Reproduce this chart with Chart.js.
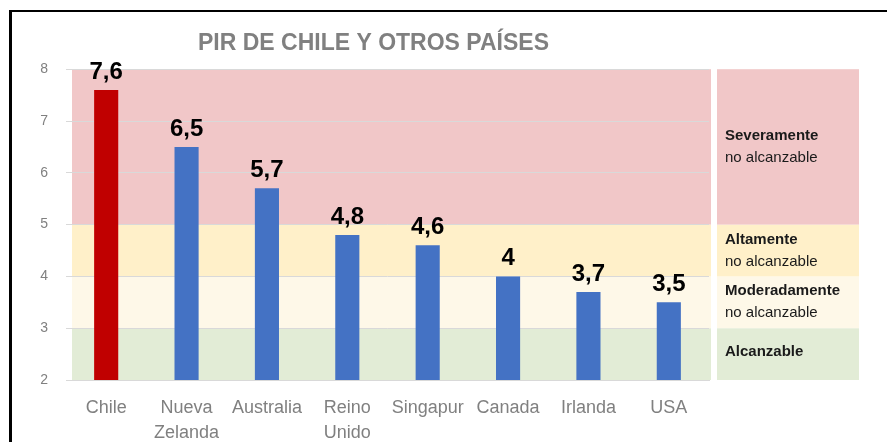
<!DOCTYPE html>
<html>
<head>
<meta charset="utf-8">
<script src="https://cdn.jsdelivr.net/npm/chart.js@4/dist/chart.umd.min.js"></script>
<style>
  body { margin: 0; background: #fff; }
  #wrap { position: relative; width: 887px; height: 442px; }
  #frame { position: absolute; left: 9px; top: 10px; right: -10px; bottom: -10px;
           border-top: 2px solid #000; border-left: 3px solid #000; pointer-events: none; }
</style>
</head>
<body>
<div id="wrap">
  <canvas id="pir_chart"></canvas>
  <div id="frame"></div>
</div>
<script>
// chart data
const countries = ["Chile", ["Nueva", "Zelanda"], "Australia", ["Reino", "Unido"], "Singapur", "Canada", "Irlanda", "USA"];
const pir_values = [7.6, 6.5, 5.7, 4.8, 4.6, 4, 3.7, 3.5];
const bar_colors = ["#c00000", "#4472c4", "#4472c4", "#4472c4", "#4472c4", "#4472c4", "#4472c4", "#4472c4"];

// affordability bands (bottom to top)
const band_from = [2, 3, 4, 5];
const band_to = [3, 4, 5, 8];
const band_titles = ["Alcanzable", "Moderadamente", "Altamente", "Severamente"];
const band_subtitles = ["", "no alcanzable", "no alcanzable", "no alcanzable"];
const band_colors = ["#e2ecd6", "#fef8e8", "#fff0c9", "#f1c7c8"];

const FONT = "'Liberation Sans', Arial, sans-serif";

// bands behind the plot + side legend panel
const bandsPlugin = {
    id: "bands",
    beforeDraw(chart) {
        const ctx = chart.ctx;
        const area = chart.chartArea;
        const y = chart.scales.y;
        const panelLeft = area.right + 8;
        const panelWidth = 142;
        ctx.save();
        for (let i = 0; i < band_from.length; i++) {
            const top = y.getPixelForValue(band_to[i]);
            const bottom = y.getPixelForValue(band_from[i]);
            ctx.fillStyle = band_colors[i];
            ctx.fillRect(area.left + 6, top, area.right - area.left - 4, bottom - top);
            ctx.fillRect(panelLeft, top, panelWidth, bottom - top);

            ctx.fillStyle = "#1a1a1a";
            ctx.textAlign = "left";
            ctx.textBaseline = "middle";
            const mid = (top + bottom) / 2;
            if (band_subtitles[i]) {
                ctx.font = "bold 15px " + FONT;
                ctx.fillText(band_titles[i], panelLeft + 8, mid - 11);
                ctx.font = "15px " + FONT;
                ctx.fillText(band_subtitles[i], panelLeft + 8, mid + 11);
            } else {
                ctx.font = "bold 15px " + FONT;
                ctx.fillText(band_titles[i], panelLeft + 8, mid - 2);
            }
        }
        ctx.restore();
    }
};

// value labels above bars
const valueLabels = {
    id: "valueLabels",
    afterDatasetsDraw(chart) {
        const ctx = chart.ctx;
        const meta = chart.getDatasetMeta(0);
        ctx.save();
        ctx.font = "bold 24px " + FONT;
        ctx.fillStyle = "#000";
        ctx.textAlign = "center";
        ctx.textBaseline = "alphabetic";
        meta.data.forEach((bar, i) => {
            ctx.fillText(String(pir_values[i]).replace(".", ","), bar.x, bar.y - 11);
        });
        ctx.restore();
    }
};

const pir_chart = new Chart("pir_chart", {
    type: "bar",
    data: {
        labels: countries,
        datasets: [{
            label: "PIR",
            data: pir_values,
            backgroundColor: bar_colors,
            categoryPercentage: 1,
            barPercentage: 0.3
        }]
    },
    options: {
        animation: false,
        responsive: true,
        maintainAspectRatio: false,
        layout: { padding: { left: 38, right: 178, top: 0, bottom: 0 } },
        plugins: {
            legend: { display: false },
            tooltip: { enabled: false },
            title: {
                display: true,
                text: "PIR DE CHILE Y OTROS PAÍSES",
                color: "#808080",
                font: { family: FONT, size: 23, weight: "bold" },
                padding: { top: 30, bottom: 11.6 }
            }
        },
        scales: {
            x: {
                grid: { display: false },
                border: { display: true, color: "#d9d9d9" },
                ticks: {
                    color: "#808080",
                    font: { family: FONT, size: 18, lineHeight: 1.39 },
                    padding: 8,
                    maxRotation: 0,
                    autoSkip: false
                },
                afterFit: (scale) => { scale.height = 62; }
            },
            y: {
                min: 2,
                max: 8,
                grid: { color: "#d9d9d9", drawTicks: false },
                border: { display: false },
                ticks: {
                    stepSize: 1,
                    color: "#808080",
                    font: { family: FONT, size: 14 },
                    padding: 18
                },
                afterFit: (scale) => { scale.width = 28; }
            }
        }
    },
    plugins: [bandsPlugin, valueLabels]
});
</script>
</body>
</html>
